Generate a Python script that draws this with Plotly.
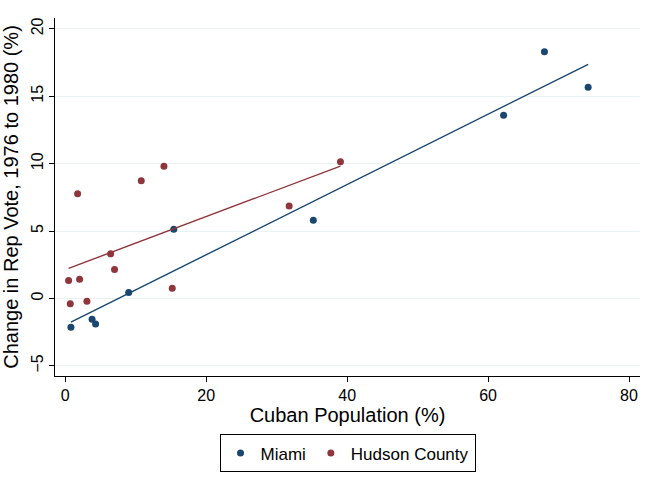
import numpy as np
import plotly.graph_objects as go

# Data
miami_x = [0.8, 3.8, 4.3, 9.0, 15.4, 35.2, 62.2, 68.0, 74.2]
miami_y = [-2.13, -1.54, -1.9, 0.45, 5.14, 5.81, 13.59, 18.3, 15.66]
hudson_x = [0.47, 0.71, 1.75, 2.03, 3.07, 6.43, 6.99, 10.78, 14.0, 15.18, 31.77, 39.05]
hudson_y = [1.34, -0.4, 7.77, 1.43, -0.2, 3.31, 2.15, 8.73, 9.8, 0.76, 6.85, 10.14]

x_ticks = [0, 20, 40, 60, 80]
y_ticks = [-5, 0, 5, 10, 15, 20]

BLUE = "#1a476f"
RED = "#90353b"
FONT = "Liberation Sans, Arial, sans-serif"

def fit(xs, ys):
    b, a = np.polyfit(xs, ys, 1)
    xr = np.array([min(xs), max(xs)])
    return xr, a + b * xr

fig = go.Figure()
for xs, ys, name, col in [(miami_x, miami_y, "Miami", BLUE), (hudson_x, hudson_y, "Hudson County", RED)]:
    fig.add_trace(go.Scatter(x=xs, y=ys, mode="markers", name=name,
                             marker=dict(color=col, size=7)))
for xs, ys, col in [(miami_x, miami_y, BLUE), (hudson_x, hudson_y, RED)]:
    fx, fy = fit(xs, ys)
    fig.add_trace(go.Scatter(x=fx, y=fy, mode="lines", showlegend=False,
                             line=dict(color=col, width=1.4), hoverinfo="skip"))

fig.update_layout(
    width=657, height=487,
    margin=dict(l=55, r=17, t=18, b=111),
    paper_bgcolor="white", plot_bgcolor="white",
    font=dict(family=FONT, size=16, color="black"),
    showlegend=True,
    legend=dict(orientation="h", x=0.5, xanchor="center", y=-0.163, yanchor="top",
                bordercolor="black", borderwidth=1, font=dict(size=17),
                itemsizing="trace", itemwidth=30),
    xaxis=dict(range=[-1.46, 81.56], tickvals=x_ticks, showgrid=False, zeroline=False,
               showline=True, linecolor="black", linewidth=1, automargin=False,
               ticks="outside", ticklen=5, tickcolor="black",
               title=dict(text="Cuban Population (%)", font=dict(size=20), standoff=0)),
    yaxis=dict(range=[-5.75, 20.8], tickvals=y_ticks, showgrid=True, gridcolor="#eaf2f3",
               gridwidth=1, zeroline=False, showline=True, linecolor="black", linewidth=1,
               automargin=False,
               ticks="outside", ticklen=5, tickcolor="black", tickangle=-90,
               title=dict(text="Change in Rep Vote, 1976 to 1980 (%)", font=dict(size=20), standoff=8)),
)

fig.write_html("out.html", config={"displayModeBar": False},
               post_script="document.body.style.margin='0px';")
